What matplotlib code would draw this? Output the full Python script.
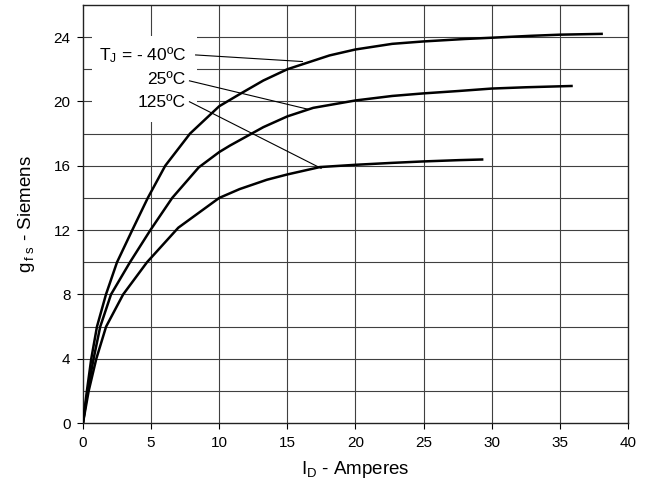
import matplotlib
matplotlib.use('Agg')
import matplotlib.pyplot as plt
from matplotlib.patches import Rectangle

plt.rcParams['font.family'] = ['Liberation Sans', 'DejaVu Sans']
plt.rcParams['mathtext.fontset'] = 'custom'
plt.rcParams['mathtext.rm'] = 'Liberation Sans'

# g_fs vs I_D
id_m40 = [0, 0.29, 0.61, 1.03, 1.69, 2.5, 3.62, 4.76, 6.04, 7.86, 10, 11.6, 13.24, 15, 18.1, 20, 22.7, 25, 28, 30, 32.9, 35, 38.07]
gfs_m40 = [0, 2, 4, 6, 8, 10, 12, 14, 16, 18, 19.7, 20.5, 21.3, 22.0, 22.86, 23.23, 23.58, 23.73, 23.88, 23.96, 24.08, 24.15, 24.2]

id_25 = [0, 0.34, 0.78, 1.27, 2.06, 3.45, 4.95, 6.55, 8.5, 10, 10.8, 13.24, 15, 16.9, 20, 22.7, 25, 27.6, 30, 32.5, 35.86]
gfs_25 = [0, 2, 4, 6, 8, 10, 12, 14, 15.9, 16.85, 17.26, 18.4, 19.07, 19.6, 20.06, 20.34, 20.5, 20.65, 20.8, 20.88, 20.96]

id_125 = [0, 0.42, 0.98, 1.7, 2.95, 4.7, 7.0, 10, 11.5, 13.5, 15, 17.4, 20, 22.7, 25, 27.6, 29.3]
gfs_125 = [0, 2, 4, 6, 8, 10, 12.15, 14, 14.55, 15.13, 15.46, 15.92, 16.06, 16.18, 16.27, 16.35, 16.39]

labels = [r'$\mathregular{T_J}$ = - 40ºC', '25ºC', '125ºC']
label_y = [22.88, 21.35, 19.96]
leader_start = [(8.27, 22.89), (7.82, 21.28), (7.82, 19.98)]
leader_end = [(16.11, 22.48), (16.49, 19.52), (17.48, 15.84)]

fig = plt.figure(figsize=(6.48, 4.92), dpi=100)
ax = fig.add_axes([0.128, 0.140, 0.841, 0.850])

grid_c = '#404040'
for yv in range(2, 26, 2):
    ax.axhline(yv, color=grid_c, lw=0.8, zorder=1)
for xv in range(5, 40, 5):
    ax.axvline(xv, color=grid_c, lw=0.8, zorder=1)

# white box behind the labels
ax.add_patch(Rectangle((0.65, 18.7), 7.7, 5.35, facecolor='white', edgecolor='none', zorder=2))

for xs, ys in [(id_m40, gfs_m40), (id_25, gfs_25), (id_125, gfs_125)]:
    ax.plot(xs, ys, color='black', lw=1.8, zorder=4, solid_joinstyle='round')

for txt, ty, p0, p1 in zip(labels, label_y, leader_start, leader_end):
    ax.text(7.55, ty, txt, ha='right', va='center', fontsize=12.5, zorder=5)
    ax.plot([p0[0], p1[0]], [p0[1], p1[1]], color='black', lw=0.8, zorder=3)

ax.set_xlim(0, 40)
ax.set_ylim(0, 26)
ax.set_xticks(range(0, 41, 5))
ax.set_yticks(range(0, 25, 4))
ax.tick_params(direction='out', length=4, width=0.8, labelsize=11, pad=5, colors='black')
for sp in ax.spines.values():
    sp.set_linewidth(1.0)
    sp.set_color('#222222')

ax.set_xlabel(r'$\mathregular{I_D}$ - Amperes', fontsize=13.5, labelpad=7)
ax.set_ylabel(r'$\mathregular{g_{\,f\;s}}$ - Siemens', fontsize=13.5, labelpad=12)

fig.savefig('out.png', dpi=100)
